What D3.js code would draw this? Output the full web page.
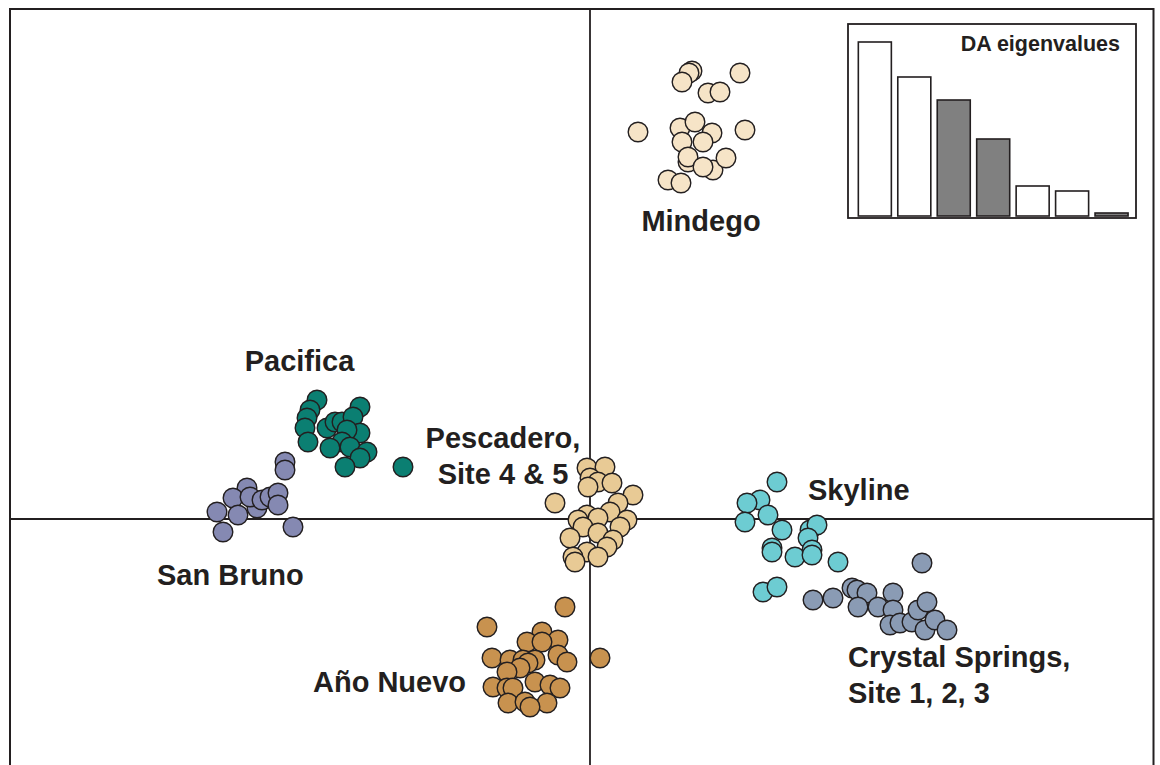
<!DOCTYPE html>
<html>
<head>
<meta charset="utf-8">
<script src="https://cdn.jsdelivr.net/npm/d3@7"></script>
<style>
  html, body { margin: 0; padding: 0; background: #ffffff; }
  svg { display: block; }
  text { font-family: "Liberation Sans", Arial, Helvetica, sans-serif; font-weight: bold; fill: #231f20; }
</style>
</head>
<body>
<svg id="chart" width="1160" height="765"></svg>
<script>
// Discriminant analysis scores (LD1, LD2) per population
const mindego = [
  [2.04, 8.96], [1.98, 8.92], [1.84, 8.74], [3.00, 8.92], [2.36, 8.52], [2.60, 8.54],
  [0.96, 7.74], [2.44, 7.72], [1.80, 7.82], [2.10, 7.94], [1.84, 7.54], [2.26, 7.54],
  [3.10, 7.78], [1.96, 7.14], [1.96, 7.24], [2.46, 6.98], [2.26, 7.04], [2.72, 7.22],
  [1.56, 6.78], [1.82, 6.72]
];
const pacifica = [
  [-5.46, 2.38], [-5.60, 2.18], [-5.66, 2.02], [-5.70, 1.82], [-5.64, 1.54], [-5.26, 1.82],
  [-5.10, 1.94], [-4.96, 1.94], [-4.60, 2.24], [-4.74, 2.04], [-4.60, 1.72], [-4.86, 1.78],
  [-4.96, 1.54], [-5.20, 1.42], [-4.80, 1.44], [-4.46, 1.34], [-4.60, 1.22], [-4.90, 1.04],
  [-3.74, 1.04]
];
const sanBruno = [
  [-6.10, 1.14], [-6.10, 0.98], [-6.86, 0.62], [-7.14, 0.42], [-7.46, 0.14], [-7.34, -0.26],
  [-7.04, 0.08], [-6.66, 0.22], [-6.80, 0.44], [-6.56, 0.38], [-6.40, 0.44], [-6.24, 0.52],
  [-6.24, 0.28], [-5.94, -0.16]
];
const pescadero = [
  [-0.06, 1.02], [0.30, 1.04], [0.00, 0.82], [0.16, 0.74], [-0.04, 0.64], [0.44, 0.72],
  [-0.70, 0.32], [0.86, 0.48], [0.56, 0.32], [0.40, 0.14], [-0.06, 0.08], [-0.24, -0.02],
  [0.16, 0.02], [0.74, -0.02], [0.60, -0.16], [-0.14, -0.16], [-0.40, -0.38], [0.16, -0.28],
  [0.46, -0.42], [0.34, -0.56], [-0.06, -0.66], [-0.34, -0.76], [0.16, -0.76], [-0.30, -0.86]
];
const anoNuevo = [
  [-0.50, -1.76], [-2.06, -2.16], [-0.96, -2.26], [-1.26, -2.46], [-0.64, -2.42], [-0.96, -2.46],
  [0.20, -2.78], [-1.96, -2.78], [-1.60, -2.82], [-1.34, -2.82], [-1.10, -2.82], [-0.64, -2.72],
  [-0.46, -2.86], [-1.24, -2.88], [-1.40, -2.98], [-1.66, -3.06], [-1.94, -3.36], [-1.66, -3.38],
  [-1.54, -3.38], [-1.10, -3.26], [-0.80, -3.32], [-0.60, -3.38], [-1.64, -3.68], [-1.30, -3.66],
  [-0.86, -3.68], [-1.20, -3.76]
];
const skyline = [
  [3.74, 0.74], [3.40, 0.38], [3.14, 0.32], [3.56, 0.08], [3.10, -0.06], [3.84, -0.22],
  [4.40, -0.22], [4.54, -0.12], [4.36, -0.38], [3.64, -0.58], [3.64, -0.66], [4.10, -0.76],
  [4.44, -0.62], [4.44, -0.72], [4.96, -0.86], [3.46, -1.46], [3.74, -1.36]
];
const crystalSprings = [
  [6.64, -0.88], [4.46, -1.62], [4.86, -1.58], [5.24, -1.38], [5.34, -1.42], [5.54, -1.48],
  [5.36, -1.76], [5.76, -1.76], [6.06, -1.48], [6.06, -1.82], [6.00, -2.12], [6.20, -2.08],
  [6.44, -2.06], [6.56, -1.82], [6.74, -1.66], [6.70, -2.22], [6.90, -2.02], [7.14, -2.22]
];

// Eigenvalues of the discriminant functions (inset)
const eigenLabels = ["LD1", "LD2", "LD3", "LD4", "LD5", "LD6", "LD7"];
const eigenValues = [174, 139, 116, 77, 30, 25, 3];
const eigenShaded = ["LD3", "LD4", "LD7"];

const groups = [
  { name: "Mindego", pts: mindego, fill: "#f6e4c7" },
  { name: "Pacifica", pts: pacifica, fill: "#0b7f72" },
  { name: "San Bruno", pts: sanBruno, fill: "#8589b2" },
  { name: "Pescadero", pts: pescadero, fill: "#e8ca95" },
  { name: "Año Nuevo", pts: anoNuevo, fill: "#c8924f" },
  { name: "Skyline", pts: skyline, fill: "#6dccd2" },
  { name: "Crystal Springs", pts: crystalSprings, fill: "#8a9bb4" }
];

// Group labels, anchored in score space
const labels = [
  { lines: ["Mindego"], x: 2.22, y: 5.76, anchor: "middle" },
  { lines: ["Pacifica"], x: -5.81, y: 2.96, anchor: "middle" },
  { lines: ["Pescadero,", "Site 4 & 5"], x: -1.74, y: 1.42, anchor: "middle" },
  { lines: ["Skyline"], x: 4.36, y: 0.38, anchor: "start" },
  { lines: ["San Bruno"], x: -8.66, y: -1.32, anchor: "start" },
  { lines: ["Año Nuevo"], x: -5.54, y: -3.46, anchor: "start" },
  { lines: ["Crystal Springs,", "Site 1, 2, 3"], x: 5.16, y: -2.96, anchor: "start" }
];

const svg = d3.select("#chart");
const ink = "#231f20";

const x = d3.scaleLinear().domain([-11.6, 11.27]).range([10, 1153.5]);
const y = d3.scaleLinear().domain([10.2, -5.2]).range([9, 779]);

// Outer frame
svg.append("rect")
  .attr("x", x(-11.6)).attr("y", y(10.2))
  .attr("width", x(11.27) - x(-11.6)).attr("height", y(-5.2) - y(10.2))
  .attr("fill", "none").attr("stroke", ink).attr("stroke-width", 2);

// Zero axes through the origin
svg.append("line")
  .attr("x1", x(-11.6)).attr("x2", x(11.27)).attr("y1", y(0)).attr("y2", y(0))
  .attr("stroke", ink).attr("stroke-width", 1.8);
svg.append("line")
  .attr("x1", x(0)).attr("x2", x(0)).attr("y1", y(10.2)).attr("y2", y(-5.2))
  .attr("stroke", ink).attr("stroke-width", 1.8);

// Individuals
groups.forEach(g => {
  svg.append("g").selectAll("circle")
    .data(g.pts)
    .join("circle")
    .attr("cx", d => x(d[0]))
    .attr("cy", d => y(d[1]))
    .attr("r", 9.8)
    .attr("fill", g.fill)
    .attr("stroke", ink)
    .attr("stroke-width", 1.4);
});

// Group labels
labels.forEach(l => {
  const t = svg.append("text")
    .attr("text-anchor", l.anchor)
    .attr("font-size", 29);
  l.lines.forEach((s, i) => {
    t.append("tspan")
      .attr("x", x(l.x))
      .attr("y", y(l.y) + i * 36)
      .text(s);
  });
});

// Inset: eigenvalue barplot
const inset = { left: 848, top: 24, right: 1136, bottom: 218 };
svg.append("rect")
  .attr("x", inset.left).attr("y", inset.top)
  .attr("width", inset.right - inset.left).attr("height", inset.bottom - inset.top)
  .attr("fill", "#ffffff").attr("stroke", ink).attr("stroke-width", 1.8);

const bx = d3.scaleBand().domain(eigenLabels).range([851.9, 1134.5]).padding(0.163);
const by = d3.scaleLinear().domain([0, 180]).range([216, 36]);

svg.append("g").selectAll("rect")
  .data(eigenLabels.map((k, i) => ({ k, v: eigenValues[i] })))
  .join("rect")
  .attr("x", d => bx(d.k))
  .attr("y", d => by(d.v))
  .attr("width", bx.bandwidth())
  .attr("height", d => by(0) - by(d.v))
  .attr("fill", d => eigenShaded.includes(d.k) ? "#808080" : "#ffffff")
  .attr("stroke", ink)
  .attr("stroke-width", 1.6);

svg.append("text")
  .attr("x", 1120).attr("y", 51)
  .attr("text-anchor", "end")
  .attr("font-size", 21.5)
  .text("DA eigenvalues");
</script>
</body>
</html>
